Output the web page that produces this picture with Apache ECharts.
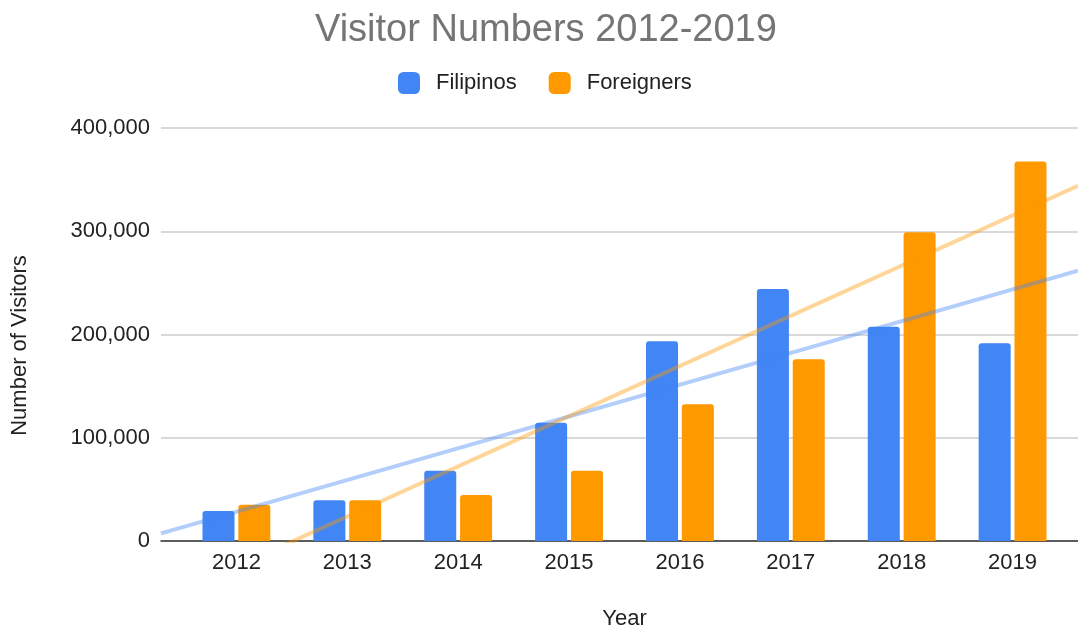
<!DOCTYPE html>
<html>
<head>
<meta charset="utf-8">
<title>Visitor Numbers 2012-2019</title>
<script src="https://cdn.jsdelivr.net/npm/echarts@6/dist/echarts.min.js"></script>
<style>
  html, body { margin: 0; padding: 0; background: #fff; }
  #chart { width: 1078px; height: 629px; }
</style>
</head>
<body>
<div id="chart"></div>
<script>
// data
var years = [2012, 2013, 2014, 2015, 2016, 2017, 2018, 2019];
var filipinos = [29000, 39500, 68000, 114500, 193500, 244000, 207500, 191500];
var foreigners = [35000, 39500, 44500, 68000, 132500, 176000, 299000, 367500];
var yTicks = [0, 100000, 200000, 300000, 400000];

var xMin = 2011.32, xMax = 2019.59;

// least squares trendline, evaluated at the ends of the x range
function trend(xs, ys) {
  var n = xs.length, mx = 0, my = 0, sxy = 0, sxx = 0;
  for (var i = 0; i < n; i++) { mx += xs[i]; my += ys[i]; }
  mx /= n; my /= n;
  for (var i = 0; i < n; i++) {
    sxy += (xs[i] - mx) * (ys[i] - my);
    sxx += (xs[i] - mx) * (xs[i] - mx);
  }
  var b = sxy / sxx, a = my - b * mx;
  return [[xMin, a + b * xMin], [xMax, a + b * xMax]];
}

function pairs(vals) {
  return vals.map(function (v, i) { return [years[i], v]; });
}

var font = 'Arial, "Liberation Sans", sans-serif';
var blue = '#4285f4', orange = '#ff9900';

var chart = echarts.init(document.getElementById('chart'));
chart.setOption({
  animation: false,
  textStyle: { fontFamily: font },
  title: {
    text: 'Visitor Numbers 2012-2019',
    left: 315, top: 12, padding: 0,
    textStyle: { fontSize: 38, fontWeight: 'normal', color: '#757575', fontFamily: font }
  },
  legend: {
    left: 398, top: 72, padding: 0,
    itemWidth: 22, itemHeight: 22, itemGap: 32,
    icon: 'roundRect',
    data: ['Filipinos', 'Foreigners'],
    textStyle: { fontSize: 22, color: '#222', padding: [0, 0, 0, 11], fontFamily: font }
  },
  grid: { left: 161, right: 0, top: 128, bottom: 88, containLabel: false, outerBoundsMode: 'none' },
  xAxis: {
    type: 'value',
    min: xMin, max: xMax,
    name: 'Year',
    nameLocation: 'middle',
    nameGap: 67,
    nameTextStyle: { fontSize: 22, color: '#222', fontFamily: font, padding: [0, 0, 0, 10] },
    axisLine: { show: true, lineStyle: { color: '#333', width: 1.5 } },
    axisTick: { show: false },
    splitLine: { show: false },
    axisLabel: {
      customValues: years,
      fontSize: 22, color: '#222', margin: 11,
      formatter: function (v) { return String(Math.round(v)); }
    }
  },
  yAxis: {
    type: 'value',
    min: 0, max: 400000, interval: 100000,
    name: 'Number of Visitors',
    nameLocation: 'middle',
    nameGap: 130,
    nameRotate: 90,
    nameTextStyle: { fontSize: 22, color: '#222', fontFamily: font, padding: [0, 22, 0, 0] },
    axisLine: { show: false },
    axisTick: { show: false },
    axisLabel: {
      customValues: yTicks,
      fontSize: 22, color: '#222', margin: 11,
      formatter: function (v) { return v.toLocaleString('en-US'); }
    },
    splitLine: { lineStyle: { color: '#cccccc', width: 1.5 } }
  },
  series: [
    {
      name: 'Filipinos', type: 'bar',
      data: pairs(filipinos),
      barWidth: 32, barGap: '12%',
      itemStyle: { color: blue, borderRadius: [3, 3, 0, 0] }
    },
    {
      name: 'Foreigners', type: 'bar',
      data: pairs(foreigners),
      barWidth: 32, barGap: '12%',
      itemStyle: { color: orange, borderRadius: [3, 3, 0, 0] }
    },
    {
      name: 'Filipinos trend', type: 'line',
      data: trend(years, filipinos),
      symbol: 'none', clip: true, silent: true,
      lineStyle: { color: blue, width: 4, opacity: 0.4 },
      z: 5
    },
    {
      name: 'Foreigners trend', type: 'line',
      data: trend(years, foreigners),
      symbol: 'none', clip: true, silent: true,
      lineStyle: { color: orange, width: 4, opacity: 0.4 },
      z: 5
    }
  ]
});
</script>
</body>
</html>
